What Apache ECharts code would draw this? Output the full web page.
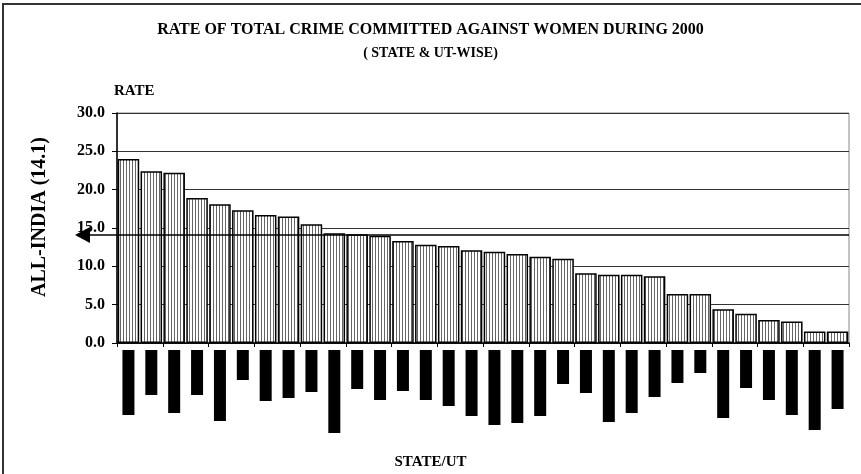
<!DOCTYPE html>
<html>
<head>
<meta charset="utf-8">
<script src="https://cdn.jsdelivr.net/npm/echarts@6/dist/echarts.min.js"></script>
<style>
html,body{margin:0;padding:0;background:#fff;}
#main{width:861px;height:474px;}
</style>
</head>
<body>
<div id="main"></div>
<script>
// Data
var categories = ['S1','S2','S3','S4','S5','S6','S7','S8','S9','S10','S11','S12','S13','S14','S15','S16',
                  'S17','S18','S19','S20','S21','S22','S23','S24','S25','S26','S27','S28','S29','S30','S31','S32'];
var rates = [24.0,22.4,22.2,18.9,18.1,17.3,16.7,16.5,15.5,14.3,14.2,14.0,13.3,12.8,12.65,12.1,
             11.9,11.6,11.25,11.0,9.1,8.9,8.9,8.7,6.4,6.4,4.4,3.8,3.0,2.8,1.5,1.5];
// lengths of the (obscured) category label blocks below the axis
var labelBlocks = [65,45,63,45,71,30,51,48,42,83,39,50,41,50,56,66,
                   75,73,66,34,43,72,63,47,33,23,68,38,50,65,80,59];
var allIndia = 14.1;

var FONT = '"Liberation Serif","Times New Roman",serif';

// vertical hatch pattern
var pat = document.createElement('canvas');
pat.width = 3; pat.height = 4;
var pc = pat.getContext('2d');
pc.fillStyle = '#ffffff'; pc.fillRect(0,0,3,4);
pc.fillStyle = '#666666'; pc.fillRect(0,0,1,4);

var chart = echarts.init(document.getElementById('main'), null, {renderer:'canvas'});
var option = {
  backgroundColor: '#ffffff',
  animation: false,
  title: [{
    text: 'RATE OF TOTAL CRIME COMMITTED AGAINST WOMEN DURING 2000',
    left: 'center', top: 17,
    textStyle: {fontFamily: FONT, fontWeight: 'bold', fontSize: 16, color: '#000'}
  },{
    text: '( STATE & UT-WISE)',
    left: 'center', top: 41,
    textStyle: {fontFamily: FONT, fontWeight: 'bold', fontSize: 14, color: '#000'}
  },{
    text: 'STATE/UT',
    left: 'center', top: 450,
    textStyle: {fontFamily: FONT, fontWeight: 'bold', fontSize: 15, color: '#000'}
  }],
  grid: [
    {left: 117, right: 12, top: 113, bottom: 131, show: true, borderColor: '#888', borderWidth: 1},
    {left: 117, right: 12, top: 350, height: 100}
  ],
  xAxis: [{
    type: 'category', data: categories, gridIndex: 0,
    axisLine: {lineStyle: {color: '#000', width: 1.5}},
    axisTick: {show: true, length: 4, lineStyle: {color: '#000'}},
    axisLabel: {show: false}
  },{
    type: 'category', data: categories, gridIndex: 1,
    axisLine: {show: false}, axisTick: {show: false}, axisLabel: {show: false}
  }],
  yAxis: [{
    type: 'value', gridIndex: 0, min: 0, max: 30, interval: 5,
    axisLine: {show: true, lineStyle: {color: '#000', width: 1.5}},
    axisTick: {show: true, length: 5, lineStyle: {color: '#000'}},
    axisLabel: {fontFamily: FONT, fontWeight: 'bold', fontSize: 16, color: '#000', margin: 12,
      formatter: function(v){ return v.toFixed(1); }},
    splitLine: {show: true, lineStyle: {color: '#333', width: 1}},
    name: 'RATE', nameLocation: 'end', nameGap: 14,
    nameTextStyle: {fontFamily: FONT, fontWeight: 'bold', fontSize: 15, color: '#000', align: 'left', padding: [0,0,0,-3]}
  },{
    type: 'value', gridIndex: 1, min: 0, max: 100, inverse: true, show: false
  }],
  series: [{
    type: 'bar', xAxisIndex: 0, yAxisIndex: 0, data: rates,
    barCategoryGap: '6%',
    itemStyle: {color: {image: pat, repetition: 'repeat'}, borderColor: '#000', borderWidth: 1.5},
    z: 2
  },{
    type: 'bar', xAxisIndex: 1, yAxisIndex: 1, data: labelBlocks,
    barWidth: 12,
    itemStyle: {color: '#000'}
  }]
};
chart.setOption(option);

function drawOverlay(){
  var y = chart.convertToPixel({yAxisIndex: 0}, allIndia);
  var gw = chart.getWidth() - 12;
  var ax = 75;
  chart.setOption({graphic: [
    {type: 'rect', shape: {x: 3, y: 4, width: 900, height: 500}, style: {fill: 'none', stroke: '#333', lineWidth: 2}, z: 100},
    {type: 'line', shape: {x1: ax + 8, y1: y, x2: gw, y2: y}, style: {stroke: '#000', lineWidth: 1.5}, z: 100},
    {type: 'polygon', shape: {points: [[ax, y], [ax + 15, y - 8], [ax + 15, y + 8]]}, style: {fill: '#000'}, z: 100},
    {type: 'text', rotation: Math.PI/2, x: 40, y: 217,
      style: {text: 'ALL-INDIA (14.1)', font: 'bold 20px ' + FONT, fill: '#000', align: 'center', verticalAlign: 'middle'}, z: 100}
  ]});
}
drawOverlay();
</script>
</body>
</html>
